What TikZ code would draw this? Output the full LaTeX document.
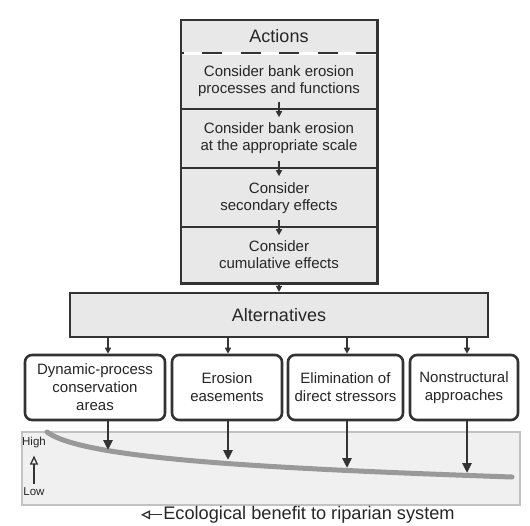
\documentclass[tikz,border=0pt]{standalone}
\usepackage{fontspec}
\setmainfont{Liberation Sans}
\usetikzlibrary{arrows.meta}

\definecolor{boxfill}{gray}{0.91}
\definecolor{edgedark}{gray}{0.2}
\definecolor{textdark}{gray}{0.15}
\definecolor{bandfill}{gray}{0.94}
\definecolor{bandedge}{gray}{0.76}
\definecolor{curvegray}{gray}{0.6}

\tikzset{
  section/.style={minimum width=196, inner sep=0, align=center, text=textdark, font=\fontsize{15}{17}\selectfont},
  altbox/.style={draw=edgedark, line width=2.6, rounded corners=7, fill=white, minimum height=65,
                 inner sep=0, align=center, text=textdark, font=\fontsize{15}{18}\selectfont},
  smallarr/.style={draw=edgedark, line width=1.6, -{Triangle[width=6,length=6]}},
  bigarr/.style={draw=edgedark, line width=2.6, -{Triangle[width=9,length=10]}},
}

\begin{document}
\begin{tikzpicture}[x=1pt, y=-1pt]
			%%%%% START %%%%%
			\useasboundingbox (0,0) rectangle (530,525);
			
			% stack of actions
			\fill[boxfill] (181,20) rectangle (377,283);
			\node[section, minimum height=33, font=\fontsize{18}{20}\selectfont] (act) at (279,36.5) {Actions};
			\node[section, minimum height=56] (s1) at (279,81) {Consider bank erosion\\processes and functions};
			\node[section, minimum height=59] (s2) at (279,138.5) {Consider bank erosion\\at the appropriate scale};
			\node[section, minimum height=58] (s3) at (279,198) {Consider\\secondary effects};
			\node[section, minimum height=57] (s4) at (279,255) {Consider\\cumulative effects};
			
			\draw[white, line width=3] (act.south west) -- (act.south east);
			\draw[edgedark, line width=2, dash pattern=on 20pt off 18.5pt, dash phase=17pt] (act.south west) -- (act.south east);
			\draw[edgedark, line width=1.5] (s1.south west) -- (s1.south east);
			\draw[edgedark, line width=1.5] (s2.south west) -- (s2.south east);
			\draw[edgedark, line width=1.5] (s3.south west) -- (s3.south east);
			\draw[edgedark, line width=2.6] (act.north west) rectangle (s4.south east);
			
			\draw[smallarr] ([yshift=7pt]s1.south) -- ([yshift=-8pt]s1.south);
			\draw[smallarr] ([yshift=7pt]s2.south) -- ([yshift=-8pt]s2.south);
			\draw[smallarr] ([yshift=7pt]s3.south) -- ([yshift=-8pt]s3.south);
			
			% alternatives
			\node[draw=edgedark, line width=2.2, fill=boxfill, minimum width=418, minimum height=44,
			      inner sep=0, text=textdark, font=\fontsize{18}{20}\selectfont] (alt) at (279,315) {Alternatives};
			\draw[smallarr] (s4.south) -- (alt.north);
			
			\node[altbox, minimum width=140] (b1) at (95,387.5) {Dynamic-process\\conservation\\areas};
			\node[altbox, minimum width=110] (b2) at (227,387.5) {Erosion\\easements};
			\node[altbox, minimum width=115] (b3) at (345.5,387.5) {Elimination of\\direct stressors};
			\node[altbox, minimum width=108] (b4) at (464,387.5) {Nonstructural\\approaches};
			
			% benefit band
			\node[draw=bandedge, line width=2, fill=bandfill, minimum width=498, minimum height=73, inner sep=0] (band) at (271,468.5) {};
			\coordinate (c0) at (47,432);
			\coordinate (c5) at (512,477);
			\draw[curvegray, line width=5, line cap=round] (c0) .. controls (82,458) and (250,468) .. (c5);
			
			\coordinate (p1) at (108,450);
			\coordinate (p2) at (228,460);
			\coordinate (p3) at (347,468);
			\coordinate (p4) at (467,473);
			
			\draw[smallarr] (alt.south -| p1) -- (b1.north -| p1);
			\draw[smallarr] (alt.south -| p2) -- (b2.north -| p2);
			\draw[smallarr] (alt.south -| p3) -- (b3.north -| p3);
			\draw[smallarr] (alt.south -| p4) -- (b4.north -| p4);
			
			\draw[bigarr] (b1.south -| p1) -- (p1);
			\draw[bigarr] (b2.south -| p2) -- (p2);
			\draw[bigarr] (b3.south -| p3) -- (p3);
			\draw[bigarr] (b4.south -| p4) -- (p4);
			
			\node[inner sep=1, text=textdark, font=\fontsize{11.5}{12}\selectfont] (hi) at (34,443) {High};
			\node[inner sep=1, text=textdark, font=\fontsize{11.5}{12}\selectfont] (lo) at (34,492) {Low};
			\draw[edgedark, line width=1.3, -{Triangle[open, width=8, length=9]}, shorten >=6pt, shorten <=3pt] (lo.north) -- (hi.south);
			
			% caption
			\node[anchor=base, inner sep=0, text=textdark, font=\fontsize{18.2}{20}\selectfont] (eco) at (309,519.5) {Ecological benefit to riparian system};
			\coordinate (ecotip) at (141,515);
			\draw[edgedark, line width=1.3, -{Triangle[open, width=9, length=9]}] ([xshift=-1pt]eco.west) -- (eco.west -| ecotip);
			%%%%% END %%%%%
\end{tikzpicture}
\end{document}
